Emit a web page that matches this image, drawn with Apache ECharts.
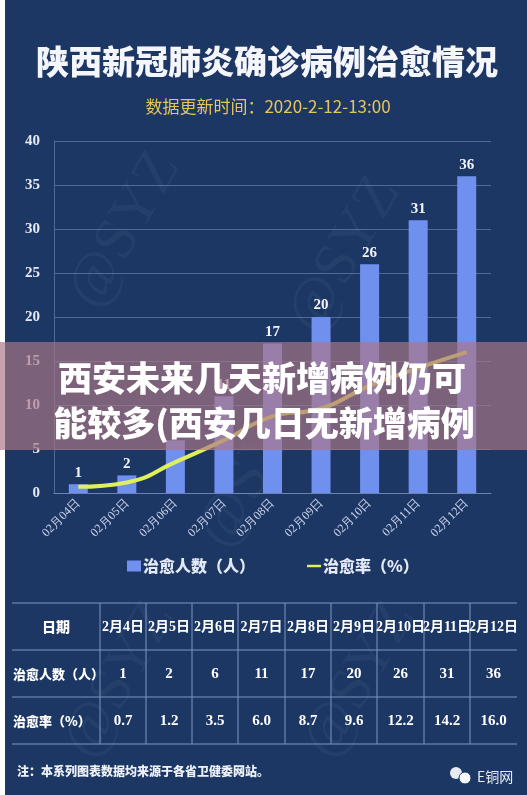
<!DOCTYPE html>
<html>
<head>
<meta charset="utf-8">
<script src="https://cdn.jsdelivr.net/npm/echarts@6/dist/echarts.min.js"></script>
<style>
  html, body { margin: 0; padding: 0; background: #ffffff; }
  #main { width: 527px; height: 795px; }
</style>
</head>
<body>
<div id="main"></div>
<script>
// chart data
const categories = ['02月04日', '02月05日', '02月06日', '02月07日', '02月08日', '02月09日', '02月10日', '02月11日', '02月12日'];
const curedCount = [1, 2, 6, 11, 17, 20, 26, 31, 36];
const curedRate = [0.7, 1.2, 3.5, 6.0, 8.7, 9.6, 12.2, 14.2, 16.0];
const tableDates = ['2月4日', '2月5日', '2月6日', '2月7日', '2月8日', '2月9日', '2月10日', '2月11日', '2月12日'];
const yTicks = [0, 5, 10, 15, 20, 25, 30, 35, 40];

const NAVY = '#1c3764';
const SERIF = '"Liberation Serif", "DejaVu Serif", serif';
const CJK = '"Noto Sans CJK SC", sans-serif';

// table geometry
const tblLeft = 12, tblRight = 517;
const rowY = [603, 650, 697, 744];
const colX = [100, 146, 192, 238, 285, 331, 377, 424, 470, 517];
const lineColor = '#7f95c0';

const graphics = [];

// white strip on the left edge
graphics.push({ type: 'rect', z: 50, shape: { x: 0, y: 0, width: 5, height: 795 }, style: { fill: '#ffffff' } });

// title + update time
graphics.push({
    type: 'text', z: 60, x: 267, y: 61,
    style: { text: '陕西新冠肺炎确诊病例治愈情况', fill: '#f4f6fb', font: '900 33px ' + CJK, align: 'center', verticalAlign: 'middle' }
});
graphics.push({
    type: 'text', z: 60, x: 268, y: 107,
    style: { text: '数据更新时间：2020-2-12-13:00', fill: '#e6c65c', font: '17px ' + CJK, align: 'center', verticalAlign: 'middle' }
});

// watermarks
[[125, 230], [345, 255], [255, 470], [120, 680], [360, 680]].forEach(p => {
    graphics.push({
        type: 'text', z: 1, x: p[0], y: p[1], rotation: Math.PI / 3, originX: 0, originY: 0,
        style: { text: '@SYZ', fill: 'rgba(150,170,210,0.07)', font: '60px ' + SERIF, align: 'center', verticalAlign: 'middle' }
    });
});

// table lines
rowY.forEach(y => {
    graphics.push({ type: 'line', z: 10, shape: { x1: tblLeft, y1: y, x2: tblRight, y2: y }, style: { stroke: lineColor, lineWidth: 1 } });
});
colX.slice(0, -1).forEach(x => {
    graphics.push({ type: 'line', z: 10, shape: { x1: x, y1: rowY[0], x2: x, y2: rowY[3] }, style: { stroke: lineColor, lineWidth: 1 } });
});

// table texts
const rowMid = [627, 674, 721];
graphics.push({ type: 'text', z: 20, x: 56, y: rowMid[0], style: { text: '日期', fill: '#ffffff', font: '900 14px ' + CJK, align: 'center', verticalAlign: 'middle' } });
graphics.push({ type: 'text', z: 20, x: 13, y: rowMid[1], style: { text: '治愈人数（人）', fill: '#ffffff', font: '900 13px ' + CJK, align: 'left', verticalAlign: 'middle' } });
graphics.push({ type: 'text', z: 20, x: 13, y: rowMid[2], style: { text: '治愈率（%）', fill: '#ffffff', font: '900 13px ' + CJK, align: 'left', verticalAlign: 'middle' } });
tableDates.forEach((d, i) => {
    const cx = (colX[i] + colX[i + 1]) / 2;
    graphics.push({ type: 'text', z: 20, x: cx, y: rowMid[0], style: { text: d, fill: '#ffffff', font: 'bold 14px ' + SERIF + ', ' + CJK, align: 'center', verticalAlign: 'middle' } });
    graphics.push({ type: 'text', z: 20, x: cx, y: rowMid[1], style: { text: String(curedCount[i]), fill: '#ffffff', font: 'bold 15px ' + SERIF, align: 'center', verticalAlign: 'middle' } });
    graphics.push({ type: 'text', z: 20, x: cx, y: rowMid[2], style: { text: curedRate[i].toFixed(1), fill: '#ffffff', font: 'bold 15px ' + SERIF, align: 'center', verticalAlign: 'middle' } });
});

// footnote + logo
graphics.push({ type: 'text', z: 20, x: 17, y: 771, style: { text: '注：本系列图表数据均来源于各省卫健委网站。', fill: '#eef1f8', font: '900 12px ' + CJK, verticalAlign: 'middle' } });
graphics.push({ type: 'circle', z: 20, shape: { cx: 456, cy: 773, r: 6 }, style: { fill: '#e8ebf2' } });
graphics.push({ type: 'circle', z: 21, shape: { cx: 465, cy: 778, r: 6 }, style: { fill: '#f6f7fa', stroke: NAVY, lineWidth: 1 } });
graphics.push({ type: 'text', z: 20, x: 477, y: 777, style: { text: 'E铜网', fill: '#e8ecf4', font: '14px ' + CJK, verticalAlign: 'middle' } });

// overlay band with headline text
graphics.push({ type: 'rect', z: 200, shape: { x: 0, y: 342, width: 527, height: 108 }, style: { fill: 'rgba(172,118,132,0.67)' } });
graphics.push({ type: 'text', z: 210, x: 262, y: 378, style: { text: '西安未来几天新增病例仍可', fill: '#ffffff', font: '900 34px ' + CJK, align: 'center', verticalAlign: 'middle' } });
graphics.push({ type: 'text', z: 210, x: 264, y: 423, style: { text: '能较多(西安几日无新增病例', fill: '#ffffff', font: '900 34px ' + CJK, align: 'center', verticalAlign: 'middle' } });

const chart = echarts.init(document.getElementById('main'), null, { renderer: 'canvas' });
chart.setOption({
    backgroundColor: NAVY,
    animation: false,
    grid: { left: 54, right: 36, top: 141, bottom: 302 },
    legend: {
        top: 553, left: 122, itemGap: 52,
        itemWidth: 14, itemHeight: 11,
        textStyle: { color: '#e3e9f6', fontSize: 16, fontWeight: 900, fontFamily: CJK, padding: [0, 0, 0, -3] },
        data: [
            { name: '治愈人数（人）', icon: 'rect' },
            { name: '治愈率（%）', icon: 'path://M0,4 L20,4 L20,7.5 L0,7.5 Z', itemStyle: { color: '#dff05a' } }
        ]
    },
    xAxis: {
        type: 'category',
        data: categories,
        axisLine: { lineStyle: { color: '#6d84b2' } },
        axisTick: { lineStyle: { color: '#6d84b2' }, length: 4 },
        axisLabel: { rotate: 45, color: '#cbd4ec', fontSize: 12, fontFamily: SERIF, margin: 8 }
    },
    yAxis: {
        type: 'value',
        min: yTicks[0], max: yTicks[yTicks.length - 1], interval: 5,
        axisLine: { show: true, lineStyle: { color: '#4f6a9a' } },
        axisTick: { show: false },
        splitLine: { lineStyle: { color: '#4f6a9a', width: 1 } },
        axisLabel: { color: '#e6eaf5', fontSize: 15, fontWeight: 'bold', fontFamily: SERIF, margin: 14 }
    },
    series: [
        {
            name: '治愈人数（人）',
            type: 'bar',
            data: curedCount,
            barWidth: 19,
            itemStyle: { color: '#7090f0' },
            label: { show: true, position: 'top', distance: 4, color: '#f2f4fa', fontSize: 15, fontWeight: 'bold', fontFamily: SERIF }
        },
        {
            name: '治愈率（%）',
            type: 'line',
            data: curedRate,
            smooth: true,
            symbol: 'none',
            lineStyle: { color: '#dff05a', width: 4 },
            itemStyle: { color: '#dff05a' },
            label: { show: true, position: 'bottom', offset: [10, -2], color: '#d9e0f0', fontSize: 13, fontWeight: 'bold', fontFamily: SERIF, formatter: p => p.value.toFixed(1) }
        }
    ],
    graphic: graphics
});
</script>
</body>
</html>
